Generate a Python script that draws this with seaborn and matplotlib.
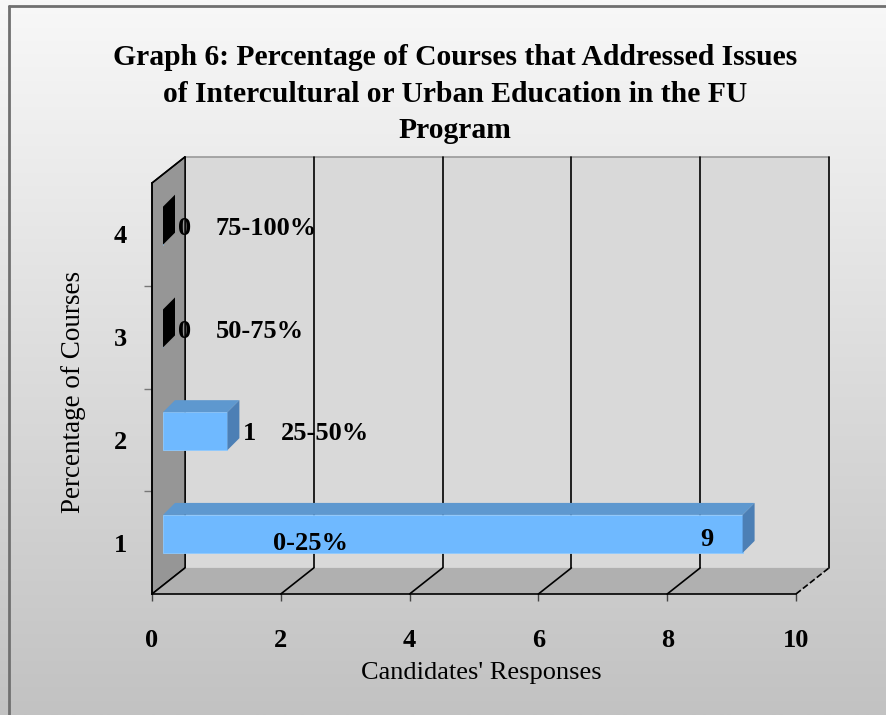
import numpy as np
import matplotlib
matplotlib.use("Agg")
import matplotlib.pyplot as plt
import matplotlib.transforms as mtransforms
from matplotlib.colors import LinearSegmentedColormap
from matplotlib.patches import Polygon
import seaborn as sns

# =========================
# DATOS
# =========================
CATEGORIES = ["4", "3", "2", "1"]
RESPONSES = [0, 0, 1, 9]
RANGE_LABELS = ["75-100%", "50-75%", "25-50%", "0-25%"]
X_TICKS = [0, 2, 4, 6, 8, 10]

TITLE = ("Graph 6: Percentage of Courses that Addressed Issues\n"
         "of Intercultural or Urban Education in the FU\nProgram")
X_LABEL = "Candidates' Responses"
Y_LABEL = "Percentage of Courses"

# =========================
# ESTILO
# =========================
DPI = 100
DX, DY = 11, 8.7          # desplazamiento (px) por cada tercio de profundidad
BAR_DX, BAR_DY = 12, 12   # grosor (px) de las barras en profundidad
FRONT = "#6fb9ff"
TOP = "#5e98cf"
SIDE = "#4c7fb5"

sns.set_theme(style="white")
plt.rcParams["font.family"] = ["Liberation Serif", "DejaVu Serif"]
for key in ["text.color", "axes.labelcolor", "xtick.color", "ytick.color"]:
    plt.rcParams[key] = "black"

fig = plt.figure(figsize=(8.87, 7.15), dpi=DPI)

# fondo degradado
bg = fig.add_axes([0, 0, 1, 1], zorder=-5)
cmap = LinearSegmentedColormap.from_list("bg", ["#f8f8f8", "#c2c2c2"])
bg.imshow(np.linspace(0, 1, 256).reshape(-1, 1), aspect="auto", cmap=cmap,
          extent=[0, 1, 0, 1], origin="upper")
bg.plot([9 / 887, 9 / 887], [0, 1 - 6 / 715], color="#707070", lw=2)
bg.plot([9 / 887, 1], [1 - 6 / 715, 1 - 6 / 715], color="#707070", lw=2)
bg.set_xlim(0, 1)
bg.set_ylim(0, 1)
bg.axis("off")

ax = fig.add_axes([152 / 887, 1 - 594 / 715, 644 / 887, 411 / 715])
ax.patch.set_alpha(0)

sns.barplot(x=RESPONSES, y=CATEGORIES, order=CATEGORIES, orient="h",
            color=FRONT, saturation=1, width=0.37, errorbar=None, ax=ax,
            edgecolor="#8fcaff", linewidth=0.6, zorder=4)
bars = list(ax.patches)

ax.set_xlim(0, 10)
ax.set_ylim(3.5, -0.5)


def shifted(x, y, ox, oy):
    px, py = ax.transData.transform((x, y))
    return ax.transData.inverted().transform((px + ox, py + oy))


def depth(x, y, k):
    return shifted(x, y, k * DX, k * DY)


def face(points, **kw):
    ax.add_patch(Polygon(points, closed=True, clip_on=False, **kw))


def line(a, b, **kw):
    ax.plot([a[0], b[0]], [a[1], b[1]], clip_on=False, **kw)


x0, x1 = X_TICKS[0], X_TICKS[-1]
ytop, ybot = -0.5, 3.5

# pared del fondo, pared izquierda y suelo
face([depth(x0, ytop, 3), depth(x1, ytop, 3), depth(x1, ybot, 3), depth(x0, ybot, 3)],
     facecolor="#d9d9d9", edgecolor="none", zorder=0)
line(depth(x0, ytop, 3), depth(x1, ytop, 3), color="#9a9a9a", lw=1.2, zorder=0.5)
for xv in X_TICKS:
    line(depth(xv, ytop, 3), depth(xv, ybot, 3), color="black", lw=1.2, zorder=0.5)
face([depth(x0, ytop, 0), depth(x0, ytop, 3), depth(x0, ybot, 3), depth(x0, ybot, 0)],
     facecolor="#969696", edgecolor="black", lw=1, zorder=1)
face([depth(x0, ybot, 0), depth(x1, ybot, 0), depth(x1, ybot, 3), depth(x0, ybot, 3)],
     facecolor="#b0b0b0", edgecolor="none", zorder=1)
for xv in X_TICKS:
    ls = "--" if xv == x1 else "-"
    line(depth(xv, ybot, 0), depth(xv, ybot, 3), color="black", lw=1.2, ls=ls, zorder=1.5)
line(depth(x0, ytop, 0), depth(x0, ytop, 3), color="black", lw=1.2, zorder=1.5)

# barras 3D
offset = ax.transData + mtransforms.ScaledTranslation(DX / DPI, DY / DPI, fig.dpi_scale_trans)
for bar, value, rng in zip(bars, RESPONSES, RANGE_LABELS):
    bar.set_transform(offset)
    bx, bw, bh = bar.get_x(), bar.get_width(), bar.get_height()
    yc = bar.get_y() + bh / 2
    y_up, y_dn = yc - bh / 2, yc + bh / 2
    bx2 = bx + bw
    fx, fy = DX, DY
    gx, gy = DX + BAR_DX, DY + BAR_DY
    face([shifted(bx, y_up, fx, fy), shifted(bx2, y_up, fx, fy),
          shifted(bx2, y_up, gx, gy), shifted(bx, y_up, gx, gy)],
         facecolor=TOP, edgecolor="none", zorder=4)
    face([shifted(bx2, y_up, fx, fy), shifted(bx2, y_dn, fx, fy),
          shifted(bx2, y_dn, gx, gy), shifted(bx2, y_up, gx, gy)],
         facecolor=SIDE if value > 0 else "black", edgecolor="none", zorder=4)

    if value > 5:
        ax.annotate(str(value), (bx2, yc), xytext=(DX - 36, DY - 6),
                    textcoords="offset pixels", ha="center", va="center",
                    fontsize=19, fontweight="bold", zorder=6)
        ax.annotate(rng, (bx, yc), xytext=(DX + 110, DY - 10),
                    textcoords="offset pixels", ha="left", va="center",
                    fontsize=19, fontweight="bold", zorder=6)
    else:
        ax.annotate(str(value), (bx2, yc), xytext=(DX + 22, 6),
                    textcoords="offset pixels", ha="center", va="center",
                    fontsize=19, fontweight="bold", zorder=6)
        ax.annotate(rng, (bx2, yc), xytext=(DX + 53, 6),
                    textcoords="offset pixels", ha="left", va="center",
                    fontsize=19, fontweight="bold", zorder=6)

# ejes
sns.despine(ax=ax, top=True, right=True)
for side in ["left", "bottom"]:
    ax.spines[side].set_color("black")
    ax.spines[side].set_linewidth(1.2)
    ax.spines[side].set_zorder(2)
ax.set_xticks(X_TICKS)
ax.set_xticklabels([str(t) for t in X_TICKS])
ax.tick_params(axis="x", bottom=True, direction="out", length=5, width=1,
               color="#444444", pad=20, labelsize=19)
ax.set_yticks([0.5, 1.5, 2.5], minor=True)
ax.tick_params(axis="y", which="minor", left=True, direction="out", length=6,
               width=1, color="#777777")
ax.tick_params(axis="y", which="major", left=False, length=0, pad=18, labelsize=19)
for lbl in ax.get_xticklabels() + ax.get_yticklabels():
    lbl.set_fontweight("bold")

ax.set_xlabel(X_LABEL, fontsize=19)
ax.xaxis.set_label_coords(0.511, -0.165)
ax.set_ylabel("")
fig.text(73 / 887, 1 - 392 / 715, Y_LABEL, rotation=90, ha="center",
         va="center", fontsize=19.5)

fig.text(455 / 887, 1 - 94 / 715, TITLE, ha="center", va="center",
         fontsize=21.3, fontweight="bold", linespacing=1.44)

fig.savefig("out.png", dpi=DPI)
